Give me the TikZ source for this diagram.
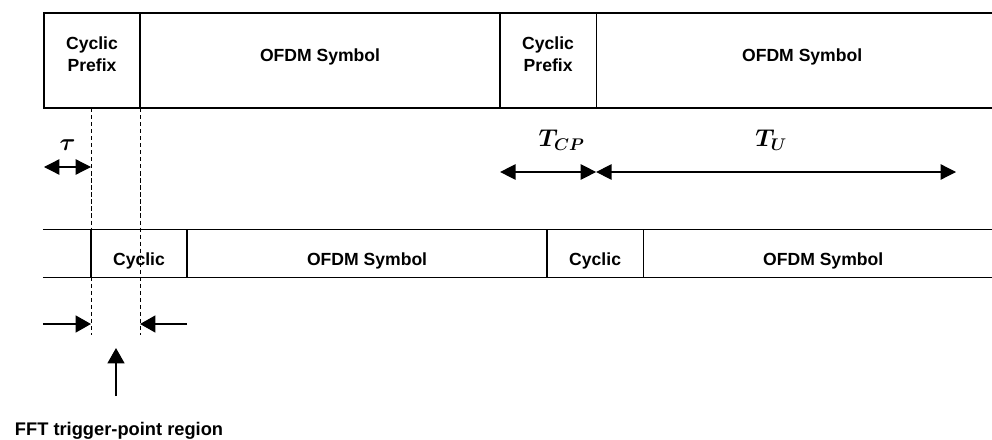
\documentclass[tikz,border=0pt]{standalone}
\usepackage{fontspec}
\setmainfont{Liberation Sans}
\usetikzlibrary{shapes,arrows.meta,positioning}
\tikzstyle{cell} = [rectangle, draw=black, line width=0.9pt, inner sep=0pt, outer sep=0pt, align=center, font=\bfseries\fontsize{12.5}{15.5}\selectfont]
\tikzstyle{topcp} = [cell, minimum width=2.4cm, minimum height=2.375cm, text height=20pt, text depth=4.2pt]
\tikzstyle{topsym} = [cell, minimum width=9cm, minimum height=2.375cm, text height=9pt, text depth=7.3pt]
\tikzstyle{lowcp} = [cell, minimum width=2.4cm, minimum height=1.2cm, text height=17pt, text depth=0pt]
\tikzstyle{lowsym} = [lowcp, minimum width=9cm]
\tikzstyle{guide} = [black, line width=0.6pt, dash pattern=on 3pt off 2pt]
\tikzstyle{span} = [line width=0.9pt, {Triangle[length=11pt,width=11pt]}-{Triangle[length=11pt,width=11pt]}]
\tikzstyle{pointer} = [line width=1.6pt, -{Triangle[length=11pt,width=12pt]}]
\tikzstyle{sym} = [font=\boldmath\fontsize{17.28}{20}\selectfont]

\begin{document}
\begin{tikzpicture}[x=0.025cm, y=-0.025cm]
        \useasboundingbox (0,0) rectangle (992,440);
        \node (cp1) [topcp] at (92,60.5) {Cyclic\\Prefix};
        \node (sym1) [topsym, right=0pt of cp1] {OFDM Symbol};
        \node (cp2) [topcp, right=0pt of sym1] {Cyclic\\Prefix};
        \node (sym2) [topsym, right=0pt of cp2, minimum width=10.3cm] {OFDM Symbol};
        \node (lead) [lowcp, draw=none, minimum width=1.2cm] at (67,253.5) {};
        \node (cyc1) [lowcp, right=0pt of lead] {Cyclic};
        \node (rsym1) [lowsym, right=0pt of cyc1] {OFDM Symbol};
        \node (cyc2) [lowcp, right=0pt of rsym1] {Cyclic};
        \node (rsym2) [lowsym, right=0pt of cyc2] {OFDM Symbol};
        \node (fft) [anchor=base west, font=\bfseries\fontsize{13}{15}\selectfont] at (10,435) {FFT trigger-point region};
        \coordinate (tau) at (0,167);
        \coordinate (dim) at (0,172);
        \coordinate (tuend) at (956,172);
        \coordinate (cut) at (0,335);
        \coordinate (win) at (0,324);
        \coordinate (trigbase) at (116,396);
        \coordinate (trigtip) at (116,348);
        \draw [line width=0.9pt] (lead.north west) -- (lead.north east) (lead.south west) -- (lead.south east);
        \draw [guide] (cyc1.west |- cp1.south) -- (cyc1.west |- cut);
        \draw [guide] (cp1.south east) -- (cp1.east |- cut);
        \draw [span] (cp1.west |- tau) -- node[sym, yshift=0.55cm] {$\tau$} (cyc1.west |- tau);
        \draw [span] (cp2.west |- dim) -- node[sym, xshift=0.34cm, yshift=0.8cm] {$T_{CP}$} (cp2.east |- dim);
        \draw [span] (cp2.east |- dim) -- node[sym, xshift=-0.12cm, yshift=0.8cm] {$T_U$} (tuend);
        \draw [pointer] (lead.west |- win) -- (cyc1.west |- win);
        \draw [pointer] (cyc1.east |- win) -- (cp1.east |- win);
        \draw [pointer] (trigbase) -- (trigtip);
    \end{tikzpicture}
\end{document}
